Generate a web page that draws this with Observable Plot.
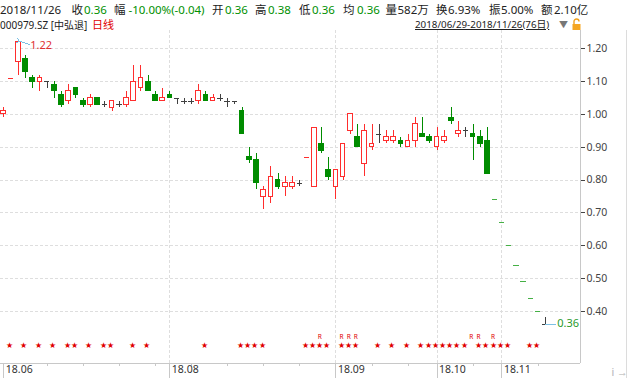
<!DOCTYPE html>
<html><head><meta charset="utf-8">
<script src="https://cdn.jsdelivr.net/npm/d3@7"></script>
<script src="https://cdn.jsdelivr.net/npm/@observablehq/plot@0.6"></script>
<style>
body{margin:0;background:#fff;font-family:"Noto Sans","Noto Sans CJK SC",sans-serif;}
#wrap{position:relative;width:630px;height:378px;overflow:hidden;background:#fff;}
#hdr{position:absolute;left:0;top:0;width:630px;height:30px;}
#hdr span{position:absolute;white-space:nowrap;}
.l1{top:2px;font-size:11.5px;line-height:16px;}
.l2{top:18px;font-size:11px;line-height:14px;}
.d{color:#222}.g{color:#009000}.r{color:#e00000}.u{text-decoration:underline}
#chart{position:absolute;left:0;top:30px;}
#edge{position:absolute;left:626px;top:30px;width:1px;height:348px;background:#dcdcdc}
</style></head><body>
<div id="wrap"><div id="hdr"></div><div id="chart"></div><div id="edge"></div></div>
<script>
// ---------- data ----------
const open  = [1.00,1.11,1.16,1.17,1.11,1.10,1.10,1.09,1.06,1.04,1.08,1.04,1.03,1.05,1.03,1.02,1.03,1.03,1.04,1.08,
               1.10,1.06,1.04,1.06,1.05,1.04,1.04,1.04,1.06,1.04,1.05,1.04,1.04,1.01,0.87,0.86,0.75,0.75,0.80,0.78,
               0.78,0.79,0.87,0.78,0.91,0.83,0.78,0.81,0.95,0.93,0.85,0.90,0.94,0.92,0.92,0.92,0.90,0.92,0.94,0.93,
               0.90,0.92,0.99,0.94,0.95,0.94,0.93,0.92,0.74,0.67,0.60,0.54,0.49,0.44,0.40,0.36];
const high  = [1.02,1.11,1.22,1.18,1.12,1.12,1.10,1.10,1.07,1.09,1.08,1.05,1.06,1.05,1.04,1.04,1.04,1.07,1.15,1.15,
               1.12,1.07,1.08,1.07,1.05,1.05,1.05,1.09,1.07,1.06,1.06,1.05,1.04,1.02,0.90,0.88,0.78,0.84,0.82,0.81,
               0.81,0.80,0.87,0.96,0.96,0.87,0.83,0.91,1.00,0.97,0.97,0.97,0.97,0.95,0.95,0.93,0.94,0.99,0.99,0.94,
               0.96,0.95,1.02,0.98,0.96,0.97,0.95,0.96,0.74,0.67,0.60,0.54,0.49,0.44,0.40,0.38];
const low   = [0.99,1.11,1.12,1.11,1.08,1.07,1.08,1.05,1.02,1.03,1.05,1.02,1.02,1.03,1.02,1.01,1.02,1.02,1.04,1.07,
               1.07,1.04,1.04,1.05,1.03,1.03,1.03,1.03,1.04,1.04,1.04,1.02,1.03,0.94,0.85,0.77,0.71,0.73,0.77,0.75,
               0.77,0.78,0.87,0.78,0.88,0.80,0.74,0.80,0.94,0.90,0.81,0.89,0.91,0.91,0.91,0.90,0.90,0.90,0.93,0.91,
               0.89,0.91,0.97,0.93,0.93,0.86,0.90,0.82,0.74,0.67,0.60,0.54,0.49,0.44,0.40,0.36];
const close = [1.01,1.11,1.22,1.13,1.10,1.11,1.10,1.07,1.03,1.07,1.06,1.03,1.05,1.03,1.03,1.04,1.03,1.05,1.10,1.11,
               1.07,1.04,1.05,1.05,1.05,1.04,1.04,1.07,1.04,1.05,1.05,1.04,1.04,0.94,0.86,0.79,0.77,0.81,0.78,0.79,
               0.79,0.79,0.87,0.96,0.89,0.81,0.83,0.91,1.00,0.90,0.95,0.91,0.94,0.93,0.93,0.91,0.92,0.97,0.93,0.92,
               0.93,0.93,0.98,0.95,0.95,0.93,0.91,0.82,0.74,0.67,0.60,0.54,0.49,0.44,0.40,0.36];

const monthIdx    = [0, 23, 46, 60, 69];
const monthLabels = ["18.06", "18.08", "18.09", "18.10", "18.11"];
const weekIdx     = [6, 11, 16, 21, 26, 31, 36, 41, 51, 56, 65, 74];
const yTicks      = [0.40, 0.50, 0.60, 0.70, 0.80, 0.90, 1.00, 1.10, 1.20];
const starIdx     = [0,2,4,6,8,9,11,13,14,17,19,27,32,33,34,35,41,42,43,44,46,47,48,51,53,55,57,58,59,60,61,62,63,65,66,67,68,69,72,73];
const rIdx        = [43, 46, 47, 48, 64, 65, 67];

const headerDate   = "2018/11/26";
const headerLabels = ["收", "幅", "开", "高", "低", "均", "量", "换", "振", "额"];
const headerValues = ["0.36", "-10.00%(-0.04)", "0.36", "0.38", "0.36", "0.36", "582万", "6.93%", "5.00%", "2.10亿"];
const stockName    = "000979.SZ [中弘退]";
const periodName   = "日线";
const rangeText    = "2018/06/29-2018/11/26(76日)";

// ---------- layout / style ----------
const labelX = [71.5, 114, 212, 255, 299, 343, 385.5, 436, 489, 541];
const valueX = [84, 128.5, 225, 268, 312, 357, 397.5, 448, 501, 554];
const valueGreen = [true, true, true, true, true, true, false, false, false, false];
const RED = "#ff2d2d", GREEN = "#008c00", FLATGREEN = "#45b045", DOJI = "#404040";

const hdr = document.getElementById("hdr");
function span(cls, x, txt) { const s = document.createElement("span"); s.className = cls; s.style.left = x + "px"; s.textContent = txt; hdr.appendChild(s); return s; }
span("l1 d", 0, headerDate);
headerLabels.forEach((t, i) => { span("l1 d", labelX[i], t); span("l1 " + (valueGreen[i] ? "g" : "d"), valueX[i], headerValues[i]); });
span("l2 d", 0, stockName).style.fontSize = "10px";
span("l2 r", 92, periodName);
span("l2 d u", 415, rangeText).style.fontSize = "9.8px";
span("l2", 559, "▼").style.cssText += "color:#777;font-size:9px;";
const lock = span("l2", 571, "");
lock.innerHTML = '<svg width="11" height="13" viewBox="0 0 11 13"><path d="M3 6 V3.5 a2.5 2.5 0 0 1 5 0" fill="none" stroke="#f0a020" stroke-width="1.4"/><rect x="1.5" y="6" width="8" height="6" fill="#f5a623"/></svg>';

// ---------- chart ----------
const candles = open.map((o, i) => ({i, o, h: high[i], l: low[i], c: close[i], prev: i ? close[i - 1] : null}));
function col(d) {
  if (d.o === d.c) {
    if (d.h === d.l) return (d.prev == null || d.c >= d.prev) ? RED : FLATGREEN;
    return DOJI;
  }
  return d.c > d.o ? RED : GREEN;
}
const xDomain = [-0.457, 79.875];
const yDomain = [0.2414, 1.2557];
const fmt = d3.format(".2f");
const hiI = high.indexOf(d3.max(high));
const lastI = close.length - 1;

const chart = Plot.plot({
  width: 630, height: 348,
  marginLeft: 0, marginRight: 50, marginTop: 0, marginBottom: 15,
  x: {type: "linear", domain: xDomain},
  y: {type: "linear", domain: yDomain},
  color: {type: "identity"},
  style: {background: "transparent", fontFamily: "'Noto Sans', sans-serif", fontSize: "10.5px", color: "#333"},
  marks: [
    Plot.ruleY(yTicks, {stroke: "#dedede", strokeDasharray: "3,2"}),
    Plot.ruleX(monthIdx.slice(1), {stroke: "#dedede", strokeDasharray: "3,2"}),
    Plot.ruleX([xDomain[1]], {stroke: "#c8c8c8"}),
    Plot.ruleY([yDomain[0]], {stroke: "#c8c8c8"}),
    // wicks
    Plot.ruleX(candles.filter(d => d.h > d.l), {x: "i", y1: "l", y2: "h", stroke: col}),
    // bodies
    Plot.rect(candles.filter(d => d.o !== d.c), {
      x1: d => d.i - 0.32, x2: d => d.i + 0.32, y1: "o", y2: "c",
      fill: d => d.c > d.o ? "#fff" : GREEN, stroke: col, strokeWidth: 1
    }),
    // doji / one-price bars
    Plot.ruleY(candles.filter(d => d.o === d.c), {y: "c", x1: d => d.i - 0.38, x2: d => d.i + 0.38, stroke: col}),
    // high annotation
    Plot.link([hiI], {x1: d => d, y1: d => high[d] + 0.004, x2: d => d + 1.6, y2: d => high[d] - 0.007, stroke: "#7cc0e4", markerStart: "arrow"}),
    Plot.text([hiI], {x: d => d, y: d => high[d], text: d => fmt(high[d]), dx: 12, dy: 3, textAnchor: "start", fill: "#e03030", fontSize: 11}),
    // last close annotation
    Plot.link([lastI], {x1: d => d, y1: d => close[d], x2: d => d + 1.55, y2: d => close[d], stroke: "#7cc0e4"}),
    Plot.text([lastI], {x: d => d, y: d => close[d], text: d => fmt(close[d]), dx: 12, dy: -1, textAnchor: "start", fill: "#2a9a2a", fontSize: 11}),
    // signal stars
    Plot.text(starIdx, {x: d => d, text: () => "★", frameAnchor: "bottom", dy: -15.5, dx: 5.5, fill: "#e00000", fontSize: 8}),
    Plot.text(rIdx, {x: d => d, text: () => "R", frameAnchor: "bottom", dy: -25, dx: 5.5, fill: "#e00000", fontSize: 6.5}),
    // axes
    Plot.axisY({anchor: "right", ticks: yTicks, tickFormat: fmt, tickSize: 4, tickPadding: 2, fontSize: 10.5, color: "#444"}),
    Plot.axisX({ticks: monthIdx, tickSize: 15, tickFormat: () => "", color: "#c8c8c8"}),
    Plot.axisX({ticks: weekIdx, tickSize: 3, tickFormat: () => "", color: "#c8c8c8"}),
    Plot.text(monthIdx, {x: d => d, text: (d, i) => monthLabels[i], frameAnchor: "bottom", dy: 9, dx: 2, textAnchor: "start", fill: "#333", fontSize: 10.5})
  ]
});
chart.style.shapeRendering = "crispEdges";
document.getElementById("chart").appendChild(chart);
</script>
</body></html>
